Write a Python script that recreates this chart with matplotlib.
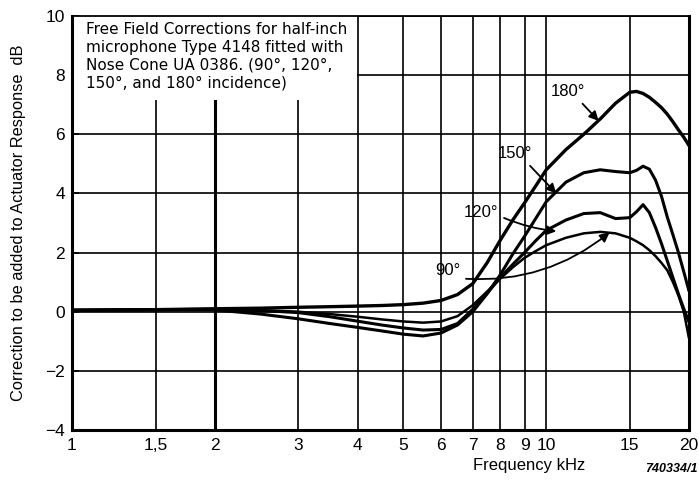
import matplotlib
matplotlib.use("Agg")
import matplotlib.pyplot as plt
from matplotlib.patches import Rectangle

plt.rcParams['font.family'] = ['Liberation Sans', 'DejaVu Sans']

# ---- data ----
freq_khz = [1, 1.5, 2, 2.5, 3, 3.5, 4, 4.5, 5, 5.5, 6, 6.5, 7, 7.5, 8, 8.5, 9, 9.5,
            10, 11, 12, 13, 14, 15, 15.5, 16, 16.5, 17, 17.5, 18, 18.5, 19, 19.5, 20]

corr_180 = [0.05, 0.07, 0.10, 0.12, 0.15, 0.17, 0.19, 0.21, 0.24, 0.29, 0.38, 0.58, 0.95, 1.65,
            2.42, 3.10, 3.68, 4.25, 4.80, 5.48, 6.00, 6.52, 7.05, 7.42, 7.45, 7.38, 7.25, 7.08,
            6.90, 6.68, 6.42, 6.15, 5.90, 5.62]
corr_150 = [0.05, 0.06, 0.06, -0.08, -0.24, -0.40, -0.53, -0.65, -0.76, -0.82, -0.72, -0.45, 0.00,
            0.60, 1.25, 1.95, 2.55, 3.15, 3.72, 4.38, 4.70, 4.80, 4.74, 4.70, 4.78, 4.92, 4.82,
            4.45, 3.90, 3.20, 2.60, 2.00, 1.35, 0.70]
corr_120 = [0.05, 0.07, 0.08, 0.04, -0.03, -0.17, -0.32, -0.45, -0.55, -0.62, -0.60, -0.40, 0.08,
            0.62, 1.15, 1.60, 2.00, 2.40, 2.75, 3.10, 3.32, 3.35, 3.15, 3.18, 3.38, 3.62, 3.35,
            2.85, 2.30, 1.72, 1.15, 0.60, 0.10, -0.35]
corr_90 = [0.05, 0.07, 0.08, 0.05, 0.00, -0.08, -0.17, -0.26, -0.33, -0.37, -0.33, -0.15, 0.22,
           0.68, 1.12, 1.50, 1.82, 2.05, 2.25, 2.50, 2.65, 2.70, 2.65, 2.50, 2.38, 2.25, 2.08,
           1.88, 1.65, 1.40, 1.00, 0.55, 0.00, -0.90]

x_ticks = [1, 1.5, 2, 3, 4, 5, 6, 7, 8, 9, 10, 15, 20]
x_tick_labels = ['1', '1,5', '2', '3', '4', '5', '6', '7', '8', '9', '10', '15', '20']
y_ticks = [-4, -2, 0, 2, 4, 6, 8, 10]

# label text position (freq, dB), arrow target (freq, dB)
labels = ['180°', '150°', '120°', '90°']
label_pos = [(11.1, 7.45), (8.6, 5.35), (7.3, 3.35), (6.2, 1.38)]
arrow_to = [(12.9, 6.45), (10.5, 4.0), (10.5, 2.72), (13.6, 2.68)]

# ---- figure ----
fig = plt.figure(figsize=(6.99, 4.82), dpi=100)
ax = fig.add_axes([72/699, 1-430/482, 617/699, 414/482])

ax.set_xscale('log')
ax.set_xlim(1, 20)
ax.set_ylim(-4, 10)
ax.set_xticks(x_ticks)
ax.set_xticklabels(x_tick_labels)
ax.minorticks_off()
ax.set_yticks(y_ticks)

ax.set_axisbelow(True)
ax.grid(True, color='black', linewidth=1.2)
for gl, t in zip(ax.get_xgridlines(), x_ticks):
    if t == 2:
        gl.set_linewidth(2.2)

ax.tick_params(axis='x', length=0, pad=6, labelsize=12.5)
ax.tick_params(axis='y', direction='in', length=5, width=1.2, pad=5, labelsize=12.5)
for s in ['left', 'right', 'bottom']:
    ax.spines[s].set_linewidth(2.2)
ax.spines['top'].set_linewidth(1.3)

series = [corr_180, corr_150, corr_120, corr_90]
widths = [2.4, 2.2, 2.2, 1.8]
for vals, lw in zip(series, widths):
    ax.plot(freq_khz, vals, color='black', linewidth=lw, solid_capstyle='round',
            solid_joinstyle='round', zorder=3)

# white panel behind the note
ax.add_patch(Rectangle((0, 0.797), 0.462, 0.203, transform=ax.transAxes,
                       facecolor='white', edgecolor='none', zorder=1.5))
ax.text(0.022, 0.985,
        'Free Field Corrections for half-inch\nmicrophone Type 4148 fitted with\n'
        'Nose Cone UA 0386. (90°, 120°,\n150°, and 180° incidence)',
        transform=ax.transAxes, ha='left', va='top', fontsize=11.0, linespacing=1.22,
        family=['DejaVu Sans'], zorder=4)

relpos = [(0.8, 0.0), (0.8, 0.0), (1.0, 0.3), (1.0, 0.0)]
conn = ['arc3,rad=0', 'arc3,rad=0', 'arc3,rad=0.08', 'arc3,rad=0.2']
for lab, lp, at, rp, cs in zip(labels, label_pos, arrow_to, relpos, conn):
    ax.annotate(lab, xy=at, xytext=lp, fontsize=12, ha='center', va='center', zorder=5,
                arrowprops=dict(arrowstyle='-|>', color='black', lw=1.3, mutation_scale=14,
                                relpos=rp, shrinkA=2, shrinkB=0, connectionstyle=cs))

ax.set_xlabel('Frequency kHz', fontsize=12)
ax.xaxis.set_label_coords(0.741, -0.068)
ax.set_ylabel('Correction to be added to Actuator Response  dB', fontsize=11.8)
ax.yaxis.set_label_coords(-0.074, 0.5)

fig.text(0.998, 1-469/482, '740334/1', ha='right', va='center', fontsize=9,
         style='italic', fontweight='bold')

fig.savefig('out.png', dpi=100)
